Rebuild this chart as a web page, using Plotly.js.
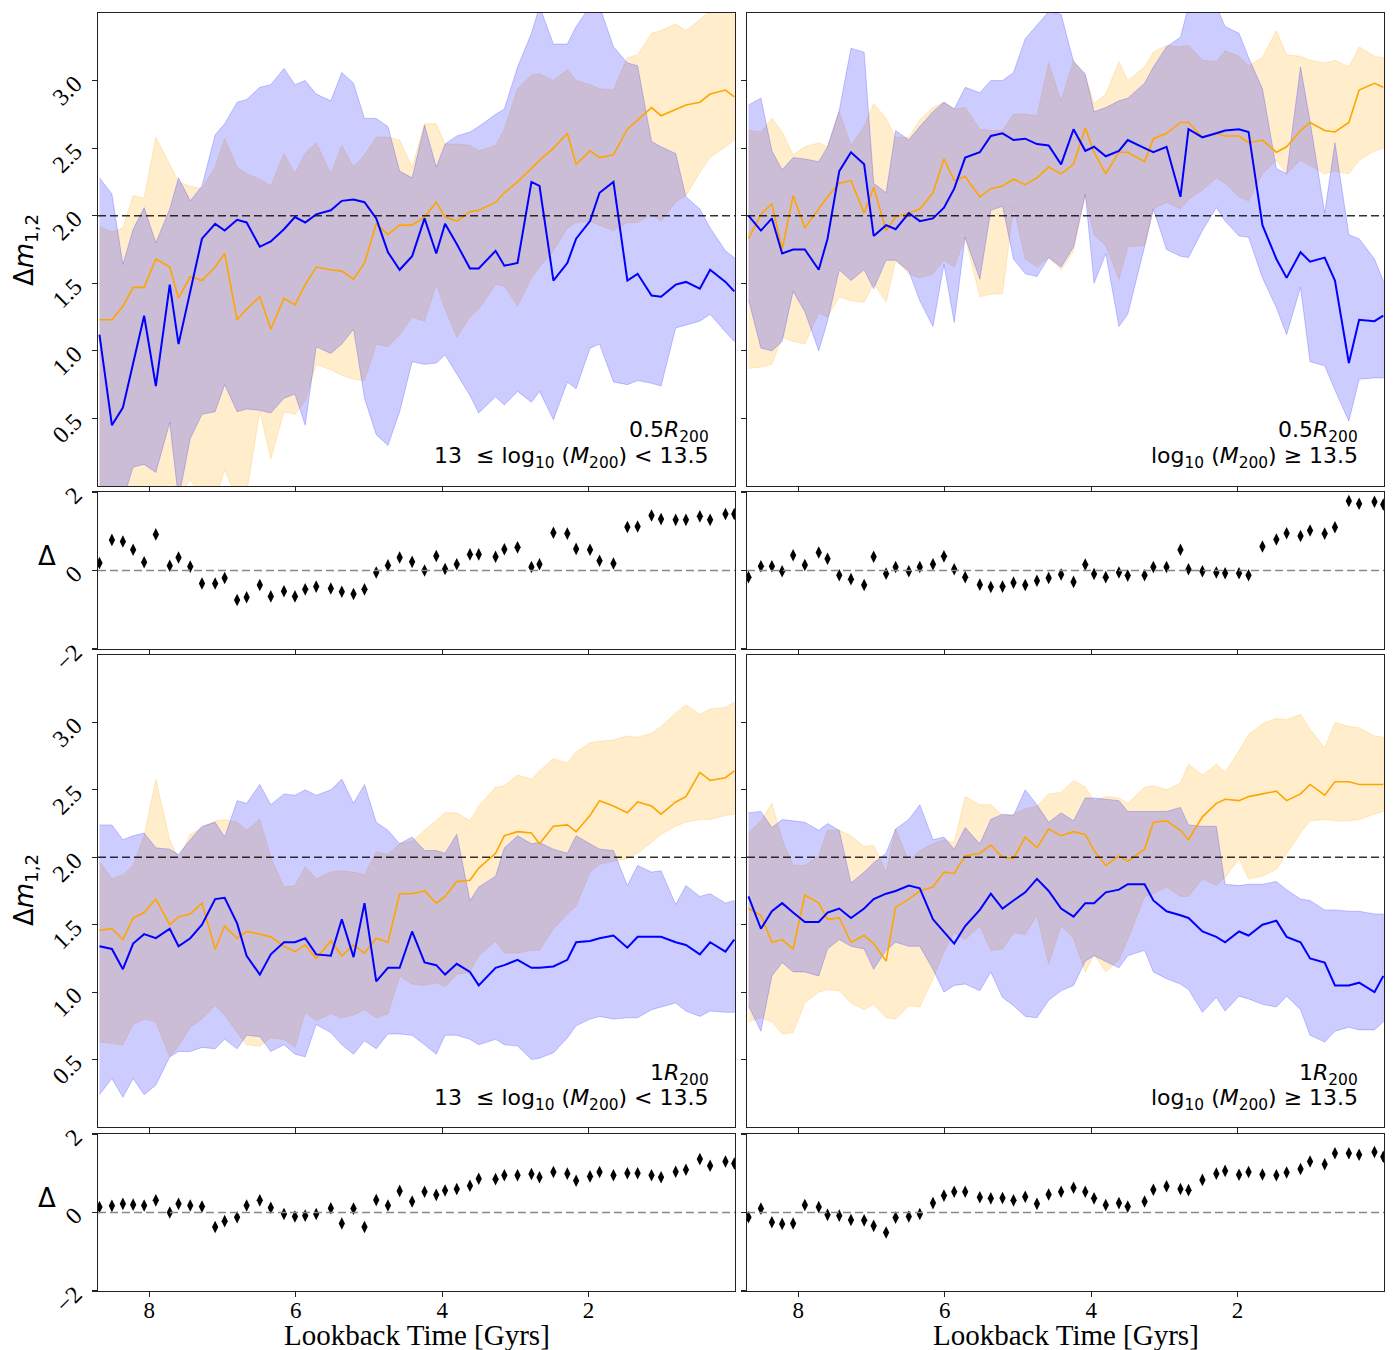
<!DOCTYPE html>
<html><head><meta charset="utf-8">
<script src="https://cdn.plot.ly/plotly-3.0.1.min.js"></script>
<style>body{margin:0;background:#fff}#chart{width:1395px;height:1350px}</style>
</head><body><div id="chart"></div>
<script>
// Lookback time grid [Gyr]
const lookback = [8.68,8.51,8.36,8.22,8.07,7.91,7.72,7.60,7.44,7.28,7.10,6.97,6.80,6.67,6.49,6.34,6.16,6.01,5.87,5.72,5.52,5.37,5.21,5.06,4.90,4.74,4.58,4.41,4.24,4.08,3.96,3.80,3.62,3.50,3.27,3.15,2.97,2.78,2.67,2.48,2.29,2.17,1.98,1.85,1.66,1.47,1.33,1.14,1.01,0.81,0.67,0.48,0.34,0.13,0.01];

// Panel 1: 0.5 R200, 13 <= log M < 13.5
const p1BlueMed = [1.12,0.45,0.58,0.92,1.26,0.74,1.49,1.05,1.43,1.83,1.94,1.89,1.97,1.95,1.77,1.81,1.90,1.99,1.95,2.01,2.04,2.11,2.12,2.10,1.98,1.73,1.60,1.70,1.98,1.72,1.94,1.79,1.61,1.61,1.74,1.63,1.65,2.25,2.22,1.52,1.65,1.83,1.96,2.17,2.25,1.52,1.57,1.41,1.40,1.49,1.51,1.46,1.60,1.51,1.44];
const p1BlueLo  = [-0.2,-0.2,-0.1,0.14,0.16,0.10,0.47,-0.1,0.35,0.53,0.55,0.75,0.55,0.57,0.56,0.54,0.65,0.68,0.45,1.03,0.98,1.05,1.16,0.65,0.38,0.30,0.55,0.92,0.90,0.91,0.97,0.83,0.67,0.54,0.66,0.60,0.70,0.62,0.70,0.49,0.77,0.72,1.02,1.05,0.77,0.75,0.78,0.76,0.74,1.17,1.19,1.22,1.27,1.14,1.07];
const p1BlueHi  = [2.28,2.16,1.64,1.90,2.06,1.80,2.05,2.28,2.11,2.22,2.60,2.68,2.84,2.86,2.95,2.97,3.09,2.97,3.00,2.90,2.85,3.06,2.98,2.72,2.72,2.66,2.33,2.28,2.67,2.36,2.53,2.59,2.62,2.66,2.75,2.79,3.10,3.35,3.55,3.27,3.27,3.40,3.55,3.55,3.25,3.13,3.11,2.55,2.51,2.46,2.14,2.05,1.91,1.74,1.69];
const p1OrangeMed = [1.23,1.23,1.33,1.47,1.47,1.68,1.62,1.39,1.55,1.52,1.62,1.72,1.23,1.31,1.40,1.16,1.39,1.34,1.49,1.62,1.60,1.59,1.53,1.65,1.94,1.86,1.93,1.93,1.99,2.10,1.99,1.96,2.03,2.04,2.10,2.17,2.25,2.35,2.41,2.50,2.61,2.38,2.48,2.43,2.45,2.64,2.71,2.80,2.74,2.79,2.82,2.84,2.90,2.93,2.88];
const p1OrangeLo  = [-0.3,-0.3,-0.3,-0.3,-0.3,-0.2,0.03,-0.1,0.05,-0.1,-0.1,0.12,-0.1,-0.05,0.55,0.20,0.55,0.53,0.63,0.90,0.86,0.82,0.79,0.78,1.05,1.03,1.12,1.25,1.22,1.49,1.31,1.10,1.25,1.31,1.49,1.48,1.33,1.54,1.62,1.74,1.91,1.95,1.96,1.93,1.89,1.95,1.95,2.01,1.96,2.10,2.15,2.32,2.43,2.51,2.56];
const p1OrangeHi  = [1.92,1.88,1.91,2.15,2.13,2.58,2.38,2.25,2.22,2.20,2.36,2.57,2.36,2.31,2.27,2.22,2.46,2.31,2.46,2.54,2.31,2.52,2.36,2.45,2.58,2.58,2.56,2.36,2.68,2.68,2.53,2.53,2.52,2.48,2.52,2.64,2.94,3.04,3.05,3.00,3.08,3.00,2.97,2.94,2.93,3.17,3.19,3.35,3.37,3.42,3.37,3.45,3.52,3.57,3.62];
const p1Delta = [0.19,0.78,0.74,0.53,0.21,0.92,0.12,0.33,0.10,-0.33,-0.33,-0.19,-0.75,-0.68,-0.37,-0.66,-0.53,-0.66,-0.48,-0.41,-0.46,-0.54,-0.60,-0.48,-0.05,0.13,0.33,0.22,0.00,0.37,0.04,0.16,0.41,0.41,0.35,0.54,0.59,0.09,0.16,0.96,0.94,0.55,0.53,0.25,0.18,1.11,1.12,1.40,1.31,1.29,1.29,1.38,1.29,1.44,1.44];

// Panel 2: 0.5 R200, log M >= 13.5
const p2BlueMed = [2.00,1.89,1.98,1.72,1.75,1.75,1.60,1.83,2.33,2.47,2.38,1.85,1.93,1.90,2.02,1.96,1.98,2.06,2.20,2.43,2.47,2.59,2.61,2.56,2.57,2.53,2.52,2.38,2.64,2.48,2.51,2.44,2.48,2.56,2.50,2.47,2.51,2.14,2.64,2.58,2.61,2.63,2.64,2.62,1.93,1.68,1.54,1.73,1.66,1.69,1.52,0.91,1.23,1.22,1.26];
const p2BlueLo  = [1.38,1.02,1.00,1.07,1.44,1.29,1.00,1.22,1.60,1.52,1.60,1.46,1.67,1.67,1.59,1.37,1.18,1.64,1.21,1.84,1.53,2.04,2.07,1.68,1.57,1.55,1.69,1.62,1.77,2.16,1.50,1.72,1.18,1.27,1.77,2.05,1.75,1.70,1.69,1.89,2.06,1.96,1.85,1.84,1.54,1.32,1.12,1.47,0.92,0.89,0.71,0.48,0.79,0.80,0.80];
const p2BlueHi  = [2.82,2.87,2.48,2.34,2.43,2.42,2.40,2.51,2.78,3.24,3.21,2.24,2.17,2.63,2.56,2.66,2.77,2.84,2.79,2.95,2.91,3.00,3.00,3.06,3.31,3.41,3.51,3.49,3.14,3.05,2.77,2.80,2.85,2.87,2.98,3.10,3.25,3.32,3.55,3.55,3.55,3.40,3.35,3.17,2.94,2.35,2.31,3.10,2.70,2.02,2.54,1.86,1.83,1.68,1.52];
const p2OrangeMed = [1.83,2.01,2.09,1.75,2.15,1.91,2.05,2.14,2.24,2.26,2.02,2.21,1.89,1.99,2.02,2.05,2.17,2.42,2.26,2.29,2.14,2.20,2.22,2.27,2.23,2.28,2.36,2.31,2.38,2.65,2.47,2.31,2.47,2.47,2.40,2.57,2.61,2.69,2.69,2.58,2.61,2.59,2.59,2.54,2.56,2.47,2.51,2.63,2.69,2.63,2.62,2.69,2.93,2.98,2.95];
const p2OrangeLo  = [0.87,0.88,0.90,1.10,1.07,1.05,1.28,1.25,1.40,1.37,1.36,1.50,1.36,1.67,1.57,1.54,1.57,1.67,1.62,1.84,1.40,1.42,1.42,2.07,1.68,1.62,1.69,1.60,1.74,2.15,1.86,1.78,1.53,1.77,1.78,2.05,2.10,2.05,2.12,2.19,2.28,2.24,2.14,2.11,2.31,2.41,2.31,2.41,2.37,2.31,2.33,2.31,2.41,2.48,2.50];
const p2OrangeHi  = [2.63,2.62,2.72,2.62,2.45,2.51,2.54,2.51,2.77,2.52,2.66,2.83,2.72,2.58,2.58,2.71,2.80,2.84,2.79,2.80,2.64,2.63,2.63,2.75,2.75,2.74,3.13,2.85,3.15,3.03,2.83,2.90,3.14,3.00,3.10,3.21,3.26,3.25,3.26,3.15,3.14,3.22,3.18,3.11,3.17,3.37,3.19,3.18,3.15,3.13,3.15,3.10,3.25,3.18,3.17];
const p2Delta = [-0.17,0.11,0.11,-0.02,0.39,0.14,0.46,0.30,-0.12,-0.22,-0.37,0.35,-0.08,0.09,-0.02,0.09,0.16,0.36,0.03,-0.17,-0.36,-0.42,-0.41,-0.31,-0.37,-0.26,-0.19,-0.10,-0.29,0.15,-0.09,-0.17,-0.05,-0.13,-0.12,0.09,0.09,0.53,0.03,-0.02,-0.05,-0.07,-0.07,-0.12,0.61,0.79,0.95,0.88,1.02,0.94,1.10,1.77,1.70,1.75,1.68];

// Panel 3: 1 R200, 13 <= log M < 13.5
const p3BlueMed = [1.34,1.32,1.17,1.36,1.43,1.40,1.47,1.34,1.40,1.50,1.69,1.70,1.51,1.27,1.13,1.28,1.37,1.37,1.40,1.28,1.27,1.54,1.26,1.66,1.08,1.18,1.18,1.45,1.22,1.20,1.13,1.21,1.15,1.05,1.18,1.20,1.24,1.18,1.18,1.19,1.24,1.37,1.38,1.40,1.42,1.33,1.41,1.41,1.41,1.37,1.35,1.28,1.37,1.30,1.39];
const p3BlueLo  = [0.24,0.36,0.22,0.36,0.24,0.31,0.52,0.56,0.56,0.59,0.58,0.65,0.58,0.68,0.67,0.56,0.61,0.54,0.52,0.76,0.70,0.61,0.54,0.64,0.58,0.69,0.69,0.68,0.61,0.54,0.68,0.68,0.65,0.61,0.65,0.61,0.60,0.50,0.51,0.55,0.66,0.75,0.80,0.82,0.80,0.81,0.81,0.87,0.89,0.92,0.86,0.82,0.86,0.85,0.85];
const p3BlueHi  = [2.24,2.24,2.13,2.16,2.18,2.07,2.06,2.02,2.13,2.23,2.26,2.15,2.42,2.40,2.54,2.39,2.47,2.46,2.50,2.46,2.50,2.58,2.40,2.54,2.26,2.20,2.10,2.15,2.05,2.05,2.03,2.17,1.68,1.78,1.86,2.07,2.16,2.10,2.11,2.06,2.03,2.16,2.10,2.06,2.05,1.79,1.94,1.89,1.90,1.65,1.79,1.71,1.73,1.66,1.68];
const p3OrangeMed = [1.46,1.47,1.39,1.55,1.59,1.69,1.50,1.56,1.58,1.66,1.32,1.49,1.40,1.45,1.43,1.41,1.34,1.30,1.35,1.25,1.38,1.27,1.35,1.29,1.40,1.37,1.73,1.73,1.75,1.66,1.71,1.82,1.83,1.92,2.03,2.16,2.19,2.18,2.10,2.23,2.24,2.19,2.31,2.42,2.38,2.33,2.41,2.38,2.32,2.41,2.45,2.63,2.57,2.59,2.64];
const p3OrangeLo  = [0.63,0.62,0.61,0.76,0.80,0.78,0.52,0.60,0.74,0.80,0.90,0.83,0.70,0.61,0.60,0.66,0.65,0.59,0.85,0.79,0.84,0.81,0.83,0.87,0.81,0.84,1.12,1.06,1.05,1.07,1.04,1.13,1.15,1.27,1.38,1.29,1.29,1.31,1.31,1.47,1.58,1.64,1.89,1.95,1.97,1.99,2.03,2.11,2.17,2.23,2.26,2.28,2.28,2.31,2.32];
const p3OrangeHi  = [1.97,1.84,1.87,1.94,2.16,2.58,2.13,1.99,2.17,2.22,2.27,2.28,2.26,2.20,2.28,2.00,1.78,1.79,1.93,1.84,1.89,1.90,1.89,1.87,2.04,2.02,2.10,2.12,2.20,2.27,2.33,2.33,2.27,2.38,2.52,2.53,2.61,2.58,2.64,2.73,2.70,2.78,2.85,2.86,2.87,2.90,2.89,2.92,2.97,3.07,3.13,3.06,3.10,3.11,3.15];
const p3Delta = [0.14,0.17,0.22,0.20,0.18,0.31,0.00,0.22,0.18,0.15,-0.37,-0.22,-0.12,0.18,0.31,0.12,-0.04,-0.10,-0.08,-0.04,0.11,-0.28,0.10,-0.37,0.32,0.18,0.55,0.28,0.53,0.45,0.56,0.60,0.68,0.86,0.85,0.95,0.95,0.98,0.90,1.03,0.99,0.81,0.92,1.03,0.95,1.00,1.00,0.95,0.90,1.04,1.09,1.36,1.19,1.30,1.25];

// Panel 4: 1 R200, log M >= 13.5
const p4BlueMed = [1.71,1.47,1.60,1.66,1.59,1.52,1.52,1.59,1.62,1.55,1.62,1.69,1.73,1.75,1.79,1.77,1.54,1.45,1.36,1.49,1.61,1.73,1.62,1.68,1.74,1.84,1.75,1.62,1.56,1.66,1.66,1.74,1.76,1.80,1.80,1.68,1.60,1.57,1.55,1.45,1.41,1.37,1.45,1.42,1.50,1.53,1.41,1.37,1.25,1.22,1.05,1.05,1.07,1.00,1.12];
const p4BlueLo  = [0.90,0.71,1.12,1.22,1.15,1.15,1.12,1.32,1.39,1.34,1.32,1.17,1.31,1.37,1.34,1.34,1.17,1.00,1.05,1.06,1.01,1.15,0.96,0.90,0.82,0.81,0.94,1.01,1.05,1.23,1.27,1.23,1.18,1.27,1.31,1.15,1.10,1.06,1.02,0.85,0.96,0.86,0.97,0.95,0.91,0.89,0.97,0.87,0.68,0.63,0.71,0.74,0.72,0.72,0.78];
const p4BlueHi  = [2.33,2.34,2.22,2.28,2.27,2.26,2.20,2.25,2.20,1.81,1.89,1.96,2.03,2.21,2.28,2.39,2.13,2.15,2.06,2.22,2.10,2.28,2.32,2.31,2.50,2.39,2.26,2.33,2.27,2.44,2.44,2.43,2.42,2.34,2.34,2.34,2.34,2.37,2.24,2.23,2.23,1.80,1.79,1.80,1.80,1.82,1.76,1.69,1.68,1.61,1.61,1.60,1.60,1.58,1.58];
const p4OrangeMed = [1.62,1.57,1.37,1.39,1.32,1.72,1.66,1.54,1.55,1.37,1.42,1.36,1.23,1.63,1.69,1.75,1.78,1.89,1.88,2.01,2.03,2.09,2.00,1.99,2.15,2.07,2.21,2.16,2.19,2.17,2.05,1.94,2.01,1.97,2.06,2.26,2.27,2.20,2.13,2.30,2.40,2.43,2.42,2.45,2.47,2.49,2.42,2.47,2.54,2.46,2.56,2.56,2.54,2.54,2.54];
const p4OrangeLo  = [0.78,0.81,0.78,0.69,0.70,0.92,1.00,1.02,1.01,0.92,0.87,0.91,0.81,0.80,0.90,0.89,1.10,1.30,1.44,1.39,1.49,1.31,1.32,1.44,1.43,1.57,1.21,1.49,1.40,1.15,1.28,1.15,1.24,1.39,1.71,1.73,1.78,1.71,1.71,1.84,1.79,1.85,1.99,1.84,1.86,1.91,2.03,2.18,2.27,2.28,2.27,2.27,2.28,2.32,2.34];
const p4OrangeHi  = [2.18,2.27,2.40,2.13,1.94,1.94,2.01,2.20,2.20,2.16,2.08,2.09,1.89,2.21,1.97,2.05,2.10,2.13,2.11,2.45,2.39,2.39,2.31,2.32,2.36,2.38,2.47,2.48,2.57,2.52,2.42,2.45,2.44,2.40,2.52,2.53,2.50,2.55,2.69,2.61,2.69,2.63,2.79,2.91,2.99,3.03,3.02,3.06,2.95,2.81,3.00,2.97,2.96,2.90,2.89];
const p4Delta = [-0.12,0.10,-0.25,-0.29,-0.28,0.19,0.14,-0.06,-0.08,-0.19,-0.20,-0.34,-0.51,-0.13,-0.10,-0.04,0.24,0.43,0.53,0.53,0.39,0.36,0.37,0.31,0.40,0.22,0.46,0.53,0.63,0.53,0.36,0.19,0.24,0.15,0.28,0.58,0.67,0.60,0.57,0.83,0.99,1.06,0.96,1.03,0.97,0.95,1.02,1.11,1.30,1.23,1.51,1.51,1.47,1.54,1.42];

const mainTickVals = [0.5, 1.0, 1.5, 2.0, 2.5, 3.0];
const mainTickText = ['0.5', '1.0', '1.5', '2.0', '2.5', '3.0'];
const resTickVals = [-2, 0, 2];
const resTickText = ['\u22122', '0', '2'];
const xTickVals = [8, 6, 4, 2];
const xTickText = ['8', '6', '4', '2'];

// ---------------------------------------------------------------
const ORANGE = '#FFA500', BLUE = '#0000FF';
const ORANGE_FILL = 'rgba(255,165,0,0.2)', BLUE_FILL = 'rgba(0,0,255,0.2)';

const panels = [
  {bm:p1BlueMed, bl:p1BlueLo, bh:p1BlueHi, om:p1OrangeMed, ol:p1OrangeLo, oh:p1OrangeHi, d:p1Delta, mx:'x', my:'y', rx:'x2', ry:'y2'},
  {bm:p2BlueMed, bl:p2BlueLo, bh:p2BlueHi, om:p2OrangeMed, ol:p2OrangeLo, oh:p2OrangeHi, d:p2Delta, mx:'x3', my:'y3', rx:'x4', ry:'y4'},
  {bm:p3BlueMed, bl:p3BlueLo, bh:p3BlueHi, om:p3OrangeMed, ol:p3OrangeLo, oh:p3OrangeHi, d:p3Delta, mx:'x5', my:'y5', rx:'x6', ry:'y6'},
  {bm:p4BlueMed, bl:p4BlueLo, bh:p4BlueHi, om:p4OrangeMed, ol:p4OrangeLo, oh:p4OrangeHi, d:p4Delta, mx:'x7', my:'y7', rx:'x8', ry:'y8'}
];
panels.forEach((p, i) => {
  ['bm','bl','bh','om','ol','oh','d'].forEach(k => {
    if (p[k].length !== lookback.length) throw new Error('panel ' + (i+1) + ' ' + k + ' length ' + p[k].length);
  });
});

function band(lo, hi, col, xa, ya) {
  return {x: lookback.concat(lookback.slice().reverse()), y: hi.concat(lo.slice().reverse()),
    xaxis: xa, yaxis: ya, mode: 'lines', fill: 'toself', fillcolor: col,
    line: {color: col, width: 1}, hoverinfo: 'skip', showlegend: false};
}
function med(y, col, w, xa, ya) {
  return {x: lookback, y: y, xaxis: xa, yaxis: ya, mode: 'lines',
    line: {color: col, width: w}, hoverinfo: 'skip', showlegend: false};
}

const data = [];
panels.forEach(p => {
  data.push(band(p.ol, p.oh, ORANGE_FILL, p.mx, p.my));
  data.push(band(p.bl, p.bh, BLUE_FILL, p.mx, p.my));
  data.push(med(p.om, ORANGE, 1.6, p.mx, p.my));
  data.push(med(p.bm, BLUE, 2, p.mx, p.my));
  data.push({x: lookback, y: p.d, xaxis: p.rx, yaxis: p.ry, mode: 'markers',
    marker: {symbol: 'diamond-tall', size: 9, color: 'black'}, hoverinfo: 'skip', showlegend: false});
});

// geometry
const L = 98, R = 11, T = 13, B = 59, W = 1395, H = 1350;
const PW = W - L - R, PH = H - T - B;
const px = v => (v - L) / PW;
const py = v => (H - B - v) / PH;
const leftDom = [px(98), px(735)], rightDom = [px(747), px(1384)];
const topMain = [py(486), py(13)], topRes = [py(649), py(492)];
const botMain = [py(1127), py(655)], botRes = [py(1291), py(1134)];

const tickFont = {family: 'Liberation Serif, DejaVu Serif, serif', size: 24, color: '#000'};
const xTickFont = {family: 'Liberation Serif, DejaVu Serif, serif', size: 23, color: '#000'};
const lineCol = '#222';

function xAxis(dom, anchor, isRes, showLabels) {
  return {domain: dom, anchor: anchor, range: [8.70, 0.0], tickvals: xTickVals, ticktext: xTickText,
    showticklabels: showLabels, ticks: 'outside', ticklen: 5, tickwidth: 1.2, tickcolor: lineCol,
    ticklabelstandoff: -7,
    showline: true, linecolor: lineCol, linewidth: 1.2, mirror: isRes ? 'ticks' : true,
    showgrid: false, zeroline: false, tickfont: xTickFont};
}
function yAxis(dom, anchor, isRes, showLabels) {
  return {domain: dom, anchor: anchor, range: isRes ? [-2, 2] : [0, 3.5],
    tickvals: isRes ? resTickVals : mainTickVals, ticktext: isRes ? resTickText : mainTickText,
    showticklabels: showLabels, tickangle: -45, ticks: 'outside', ticklen: 5, tickwidth: 1.2, tickcolor: lineCol,
    ticklabelstandoff: 12,
    showline: true, linecolor: lineCol, linewidth: 1.2, mirror: true,
    showgrid: false, zeroline: false, tickfont: tickFont};
}

const layout = {
  width: W, height: H, margin: {l: L, r: R, t: T, b: B},
  paper_bgcolor: '#fff', plot_bgcolor: '#fff', showlegend: false, hovermode: false,
  xaxis: xAxis(leftDom, 'y', false, false),   yaxis: yAxis(topMain, 'x', false, true),
  xaxis2: xAxis(leftDom, 'y2', true, false),  yaxis2: yAxis(topRes, 'x2', true, true),
  xaxis3: xAxis(rightDom, 'y3', false, false), yaxis3: yAxis(topMain, 'x3', false, false),
  xaxis4: xAxis(rightDom, 'y4', true, false), yaxis4: yAxis(topRes, 'x4', true, false),
  xaxis5: xAxis(leftDom, 'y5', false, false), yaxis5: yAxis(botMain, 'x5', false, true),
  xaxis6: xAxis(leftDom, 'y6', true, true),   yaxis6: yAxis(botRes, 'x6', true, true),
  xaxis7: xAxis(rightDom, 'y7', false, false), yaxis7: yAxis(botMain, 'x7', false, false),
  xaxis8: xAxis(rightDom, 'y8', true, true),  yaxis8: yAxis(botRes, 'x8', true, false),
  shapes: [], annotations: []
};

[['x','y'],['x3','y3'],['x5','y5'],['x7','y7']].forEach(([xa, ya]) => {
  layout.shapes.push({type: 'line', xref: xa + ' domain', yref: ya, x0: 0, x1: 1, y0: 2, y1: 2,
    line: {color: 'rgba(0,0,0,0.8)', width: 1.6, dash: '8px,4px'}, layer: 'above'});
});
[['x2','y2'],['x4','y4'],['x6','y6'],['x8','y8']].forEach(([xa, ya]) => {
  layout.shapes.push({type: 'line', xref: xa + ' domain', yref: ya, x0: 0, x1: 1, y0: 0, y1: 0,
    line: {color: '#888', width: 1.6, dash: '8px,4px'}, layer: 'above'});
});

const sans = 'DejaVu Sans, sans-serif';
function ann(text, x, y, opts) {
  layout.annotations.push(Object.assign({text: text, x: x, y: y, xref: 'paper', yref: 'paper',
    xanchor: 'center', yanchor: 'middle',
    showarrow: false, font: {family: sans, size: 22, color: '#000'}}, opts || {}));
}
// y-axis labels
ann('\u0394<i>m</i><sub>1,2</sub>', px(25), py(250), {textangle: -90, font: {family: sans, size: 26, color: '#000'}});
ann('\u0394<i>m</i><sub>1,2</sub>', px(25), py(890), {textangle: -90, font: {family: sans, size: 26, color: '#000'}});
ann('\u0394', px(47), py(556), {font: {family: sans, size: 26, color: '#000'}});
ann('\u0394', px(47), py(1198), {font: {family: sans, size: 26, color: '#000'}});
// x-axis labels
const serif = {family: 'Liberation Serif, DejaVu Serif, serif', size: 29, color: '#000'};
ann('Lookback Time [Gyrs]', px(416.5), py(1335), {font: serif});
ann('Lookback Time [Gyrs]', px(1065.5), py(1335), {font: serif});
// panel text
const lowMass = '13  \u2264 log<sub>10</sub> (<i>M</i><sub>200</sub>) < 13.5';
const highMass = 'log<sub>10</sub> (<i>M</i><sub>200</sub>) \u2265 13.5';
ann('0.5<i>R</i><sub>200</sub>', px(711), py(432), {xanchor: 'right'});
ann(lowMass, px(711), py(457), {xanchor: 'right'});
ann('0.5<i>R</i><sub>200</sub>', px(1360), py(432), {xanchor: 'right'});
ann(highMass, px(1360), py(457), {xanchor: 'right'});
ann('1<i>R</i><sub>200</sub>', px(711), py(1074), {xanchor: 'right'});
ann(lowMass, px(711), py(1099), {xanchor: 'right'});
ann('1<i>R</i><sub>200</sub>', px(1360), py(1074), {xanchor: 'right'});
ann(highMass, px(1360), py(1099), {xanchor: 'right'});

Plotly.newPlot('chart', data, layout, {staticPlot: true, displayModeBar: false});
</script>
</body></html>
